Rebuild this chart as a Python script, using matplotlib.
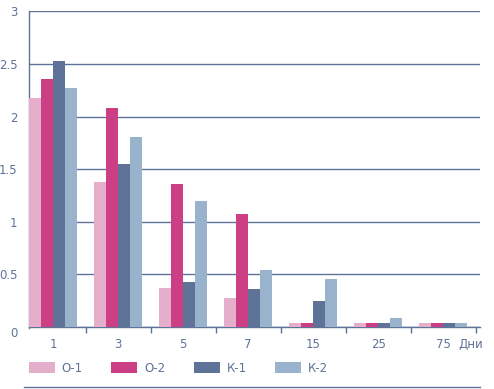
import numpy as np
import matplotlib
matplotlib.use("Agg")
import matplotlib.pyplot as plt
from matplotlib.lines import Line2D

# -----------------------------------------------------
categories = ["1", "3", "5", "7", "15", "25", "75"]
series_names = ["О-1", "О-2", "К-1", "К-2"]
o1 = [2.18, 1.38, 0.37, 0.28, 0.04, 0.04, 0.04]
o2 = [2.36, 2.08, 1.36, 1.07, 0.04, 0.04, 0.04]
k1 = [2.53, 1.55, 0.43, 0.36, 0.25, 0.04, 0.04]
k2 = [2.27, 1.81, 1.20, 0.54, 0.46, 0.09, 0.04]
yticks = [0, 0.5, 1, 1.5, 2, 2.5, 3]
ytick_labels = ["0", "0.5", "1", "1.5", "2", "2.5", "3"]
# -----------------------------------------------------

colors = ["#E5AFCB", "#CC3F84", "#5F7298", "#9AB3CC"]
ink = "#5F7298"

plt.rcParams["font.family"] = ["DejaVu Sans"]
plt.rcParams["font.size"] = 8.5

fig = plt.figure(figsize=(4.94, 3.89), dpi=100)
ax = fig.add_axes([0.0581, 0.1594, 0.9136, 0.8115])

x = np.arange(len(categories))
w = 0.185
for i, vals in enumerate([o1, o2, k1, k2]):
    ax.bar(x + (i - 1.5) * w, vals, width=w, color=colors[i],
           label=series_names[i], zorder=3, linewidth=0)

ax.set_xlim(-0.377, 6.566)
ax.set_ylim(0, 3)
ax.set_yticks(yticks)
ax.set_yticklabels(ytick_labels)
ax.yaxis.grid(True, color=ink, linewidth=1.0, zorder=1)
ax.tick_params(axis="y", length=0, pad=8, colors=ink, labelsize=8.5)
# the "0" sits just under the base line
ax.yaxis.get_major_ticks()[0].label1.set_verticalalignment("top")

# category boundary ticks, labels at centers
ax.set_xticks(x + 0.5)
ax.set_xticklabels([])
ax.set_xticks(x, minor=True)
ax.set_xticklabels(categories, minor=True)
ax.tick_params(axis="x", which="major", length=4, width=1.0, color=ink, direction="out")
ax.tick_params(axis="x", which="minor", length=0, pad=8, colors=ink, labelsize=8.5)

for s in ["top", "right"]:
    ax.spines[s].set_visible(False)
ax.spines["left"].set_color(ink)
ax.spines["left"].set_linewidth(1.0)
ax.spines["left"].set_bounds(-0.01, 3)
ax.spines["bottom"].set_color(ink)
ax.spines["bottom"].set_linewidth(1.0)

ax.text(6.43, -0.1, "Дни", color=ink, ha="center", va="top", fontsize=8.5)

leg = ax.legend(loc="upper left", bbox_to_anchor=(0.0, -0.11), ncol=4,
                frameon=False, handlelength=2.2, handleheight=1.0,
                handletextpad=0.6, columnspacing=2.4, borderaxespad=0,
                borderpad=0, fontsize=8.5)
for t in leg.get_texts():
    t.set_color(ink)

fig.add_artist(Line2D([24 / 494, 480 / 494], [1 - 386.7 / 389] * 2,
                      color=ink, linewidth=1.0, transform=fig.transFigure))

fig.savefig("out.png", dpi=100)
